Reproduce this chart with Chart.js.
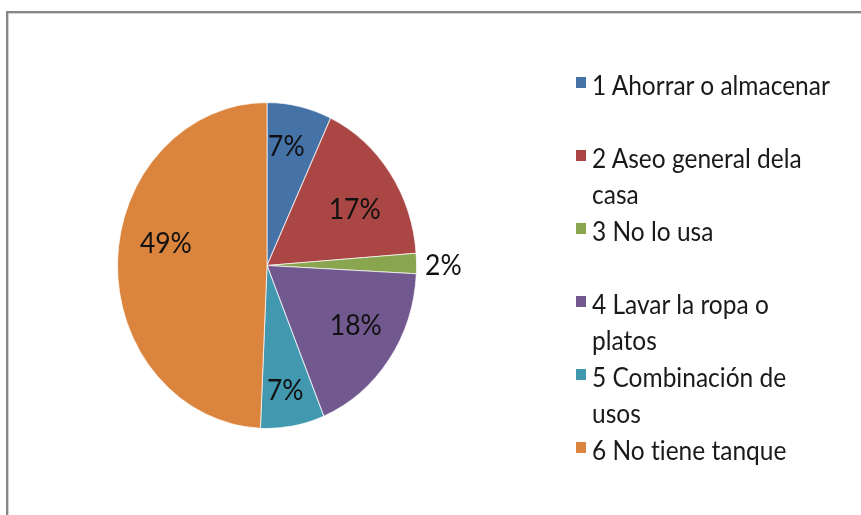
<!DOCTYPE html>
<html>
<head>
<meta charset="utf-8">
<script src="https://cdn.jsdelivr.net/npm/chart.js@4.4.1/dist/chart.umd.min.js"></script>
<style>
  html, body { margin: 0; padding: 0; background: #fff; }
  #wrap { position: relative; width: 861px; height: 515px; overflow: hidden; background: #fff; }
  #frame { position: absolute; left: 6px; top: 11px; width: 900px; height: 600px;
           border-left: 2px solid #868686; border-top: 2px solid #868686; }
  #frame2 { position: absolute; left: 8px; top: 13px; width: 900px; height: 600px;
           border-left: 1px solid #d4d4d4; border-top: 1px solid #d4d4d4; }
  canvas { position: absolute; left: 0; top: 0; }
  #legend { position: absolute; left: 0; top: 0; font-family: Lato, "Open Sans", sans-serif; }
  .item { position: absolute; left: 576px; width: 280px; }
  .sw { position: absolute; left: 0; top: 10px; width: 10px; height: 11px; }
  .tx { position: absolute; left: 16px; top: 0; width: 241px; font-size: 24.5px; line-height: 32.6px;
        color: #1a1a1a; white-space: normal; font-variant-ligatures: none;
        transform: scaleY(1.1); transform-origin: 0 0; }
</style>
</head>
<body>
<div id="wrap">
  <div id="frame"></div>
  <div id="frame2"></div>
  <canvas id="c" width="861" height="515"></canvas>
  <div id="legend"></div>
</div>
<script>
const categories = [
  "1 Ahorrar o almacenar",
  "2 Aseo general dela casa",
  "3 No lo usa",
  "4 Lavar la ropa o platos",
  "5 Combinación de usos",
  "6 No tiene tanque"
];
const shares = [7.0, 16.8, 2.0, 18.0, 6.9, 49.3];
const colors = ["#4572A7", "#AA4643", "#89A54E", "#71588F", "#4198AF", "#DB843D"];

const STRETCH_Y = 1.09;
// per-slice label placement: radius fraction and angle offset (degrees)
const labelRadius = [0.74, 0.68, 1.18, 0.70, 0.78, 0.69];
const labelAngleOff = [-2.5, 4.2, 0.7, -3.3, 0.9, 10.1];

const stretchPlugin = {
  id: 'stretch',
  beforeDatasetsDraw(chart) {
    const a = chart.getDatasetMeta(0).data[0];
    const ctx = chart.ctx;
    ctx.save();
    ctx.translate(a.x, a.y);
    ctx.scale(1, STRETCH_Y);
    ctx.translate(-a.x, -a.y);
  },
  afterDatasetsDraw(chart) {
    chart.ctx.restore();
  }
};

const labelPlugin = {
  id: 'pctLabels',
  afterDraw(chart) {
    const ctx = chart.ctx;
    const meta = chart.getDatasetMeta(0);
    const data = chart.data.datasets[0].data;
    const total = data.reduce((s, v) => s + v, 0);
    meta.data.forEach((arc, i) => {
      const mid = (arc.startAngle + arc.endAngle) / 2 + labelAngleOff[i] * Math.PI / 180;
      const r = arc.outerRadius * labelRadius[i];
      const x = arc.x + Math.cos(mid) * r;
      const y = arc.y + Math.sin(mid) * r * STRETCH_Y;
      ctx.save();
      ctx.translate(x, y);
      ctx.scale(1, STRETCH_Y);
      ctx.font = '26.5px Lato, "Open Sans", sans-serif';
      ctx.fillStyle = '#111';
      ctx.textAlign = 'center';
      ctx.textBaseline = 'middle';
      ctx.fillText(Math.round(data[i] / total * 100) + '%', 0, 0);
      ctx.restore();
    });
  }
};

new Chart(document.getElementById('c'), {
  type: 'pie',
  data: {
    labels: categories,
    datasets: [{
      data: shares,
      backgroundColor: colors,
      borderColor: 'rgba(255,255,255,0.7)',
      borderWidth: 1
    }]
  },
  options: {
    responsive: false,
    animation: false,
    devicePixelRatio: 1,
    layout: { padding: { left: 117, right: 444, top: 115.5, bottom: 99.5 } },
    plugins: {
      legend: { display: false },
      tooltip: { enabled: false }
    }
  },
  plugins: [stretchPlugin, labelPlugin]
});

// HTML legend built from the same arrays
const legend = document.getElementById('legend');
categories.forEach((name, i) => {
  const item = document.createElement('div');
  item.className = 'item';
  item.style.top = (67 + i * 73) + 'px';
  const sw = document.createElement('div');
  sw.className = 'sw';
  sw.style.background = colors[i];
  const tx = document.createElement('div');
  tx.className = 'tx';
  tx.textContent = name;
  item.appendChild(sw);
  item.appendChild(tx);
  legend.appendChild(item);
});
</script>
</body>
</html>
